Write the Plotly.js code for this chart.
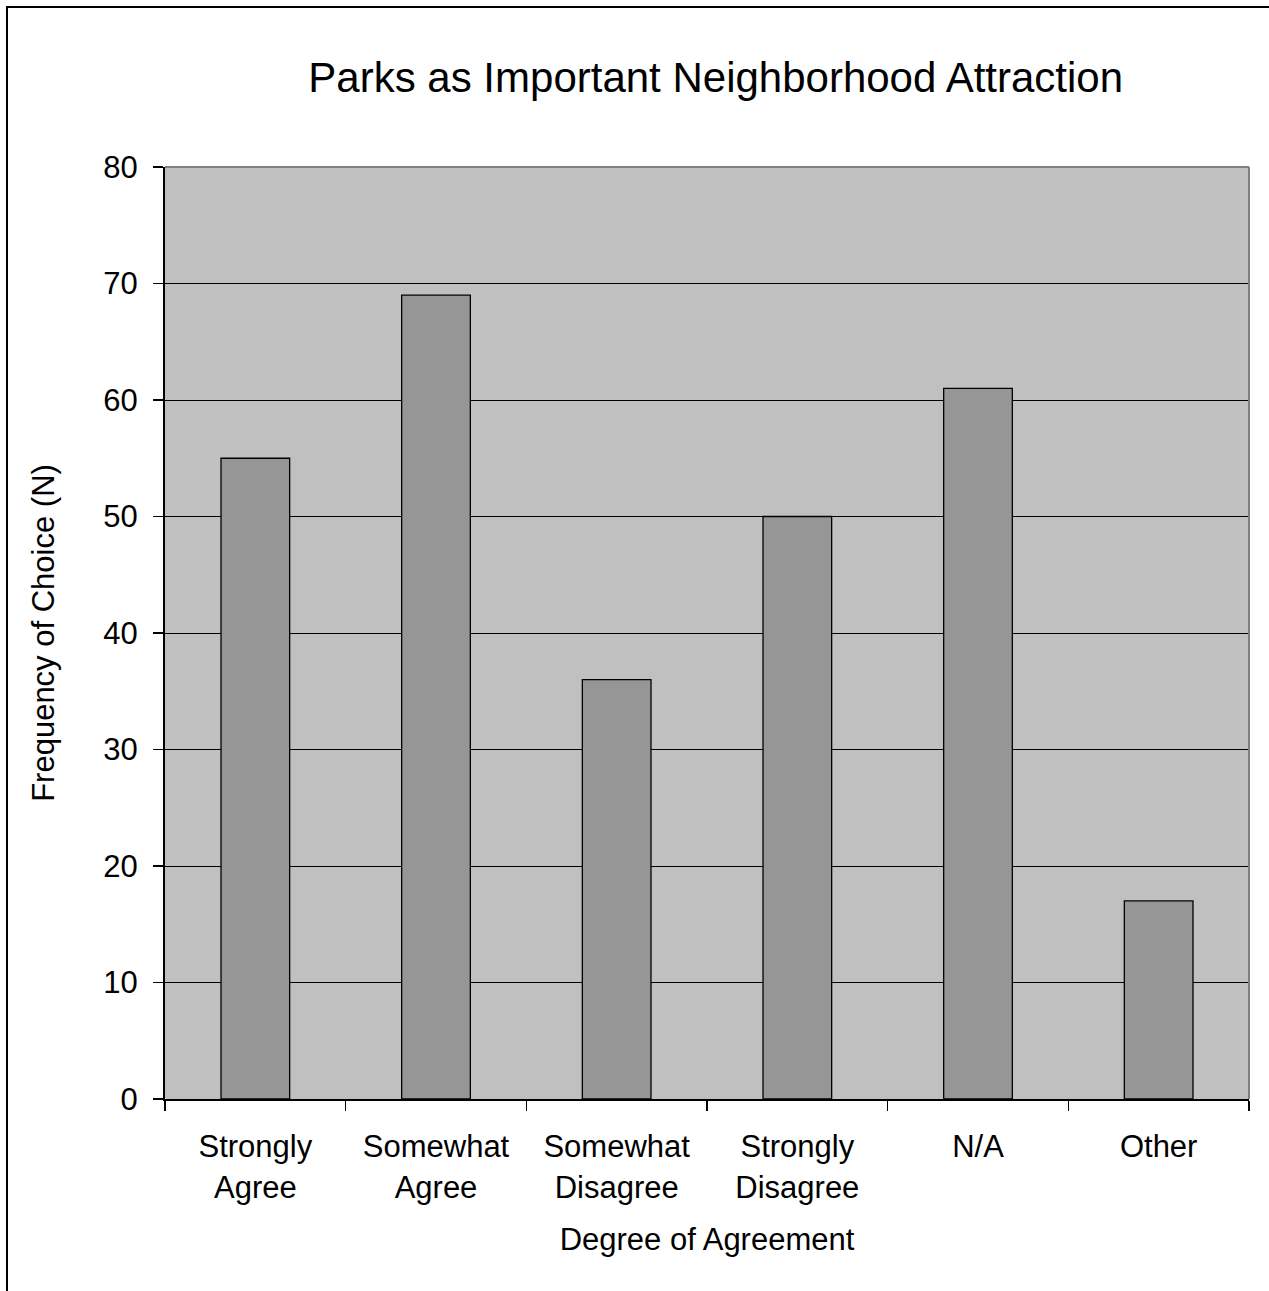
<!DOCTYPE html>
<html><head><meta charset="utf-8">
<script src="https://cdn.plot.ly/plotly-3.0.1.min.js"></script>
<style>
html,body{margin:0;padding:0;background:#fff;}
#frame{position:absolute;left:6px;top:6px;width:1263px;height:1285px;border-top:2px solid #000;border-left:2px solid #000;box-sizing:border-box;}
#chart{position:absolute;left:0;top:0;width:1269px;height:1291px;}
</style></head>
<body>
<div id="frame"></div>
<div id="chart"></div>
<script>
const categories = ["Strongly<br>Agree","Somewhat<br>Agree","Somewhat<br>Disagree","Strongly<br>Disagree","N/A","Other"];
const frequencies = [55, 69, 36, 50, 61, 17];
const yTicks = [0,10,20,30,40,50,60,70,80];

const font = "Liberation Sans, Arial, sans-serif";
Plotly.newPlot("chart", [{
  type: "bar",
  x: categories,
  y: frequencies,
  width: 0.38,
  marker: {color: "#969696", line: {color: "#000", width: 1.3}},
  hoverinfo: "skip"
}], {
  width: 1269, height: 1291,
  paper_bgcolor: "rgba(0,0,0,0)",
  plot_bgcolor: "#C0C0C0",
  margin: {l: 165, r: 20, t: 167, b: 192},
  showlegend: false,
  font: {family: font, color: "#000", size: 31},
  title: {text: "Parks as Important Neighborhood Attraction", font: {size: 42, family: font, color: "#000"},
          x: 0.564, xanchor: "center", y: 0.94, yanchor: "middle"},
  xaxis: {
    type: "category",
    tickson: "boundaries",
    ticks: "outside", ticklen: 10, tickwidth: 1.5, tickcolor: "#000",
    showline: true, linecolor: "#000", linewidth: 2,
    showgrid: false,
    tickfont: {size: 31, family: font},
    ticklabelstandoff: 19,
    title: {text: "Degree of Agreement", font: {size: 31, family: font}, standoff: 25},
    automargin: false
  },
  yaxis: {
    range: [0, 80],
    tickvals: yTicks,
    ticks: "outside", ticklen: 10, tickwidth: 1.5, tickcolor: "#000",
    showline: true, linecolor: "#000", linewidth: 2,
    showgrid: true, gridcolor: "#000", gridwidth: 1,
    zeroline: false,
    tickfont: {size: 31, family: font},
    ticklabelstandoff: 9,
    title: {text: "Frequency of Choice (N)", font: {size: 31, family: font}, standoff: 39},
    automargin: false
  },
  shapes: [
    {type: "line", xref: "paper", yref: "paper", x0: 0, x1: 1, y0: 1, y1: 1, line: {color: "#808080", width: 2}},
    {type: "line", xref: "paper", yref: "paper", x0: 1, x1: 1, y0: 0, y1: 1, line: {color: "#808080", width: 2}}
  ]
}, {displayModeBar: false, staticPlot: true});
</script>
</body></html>
